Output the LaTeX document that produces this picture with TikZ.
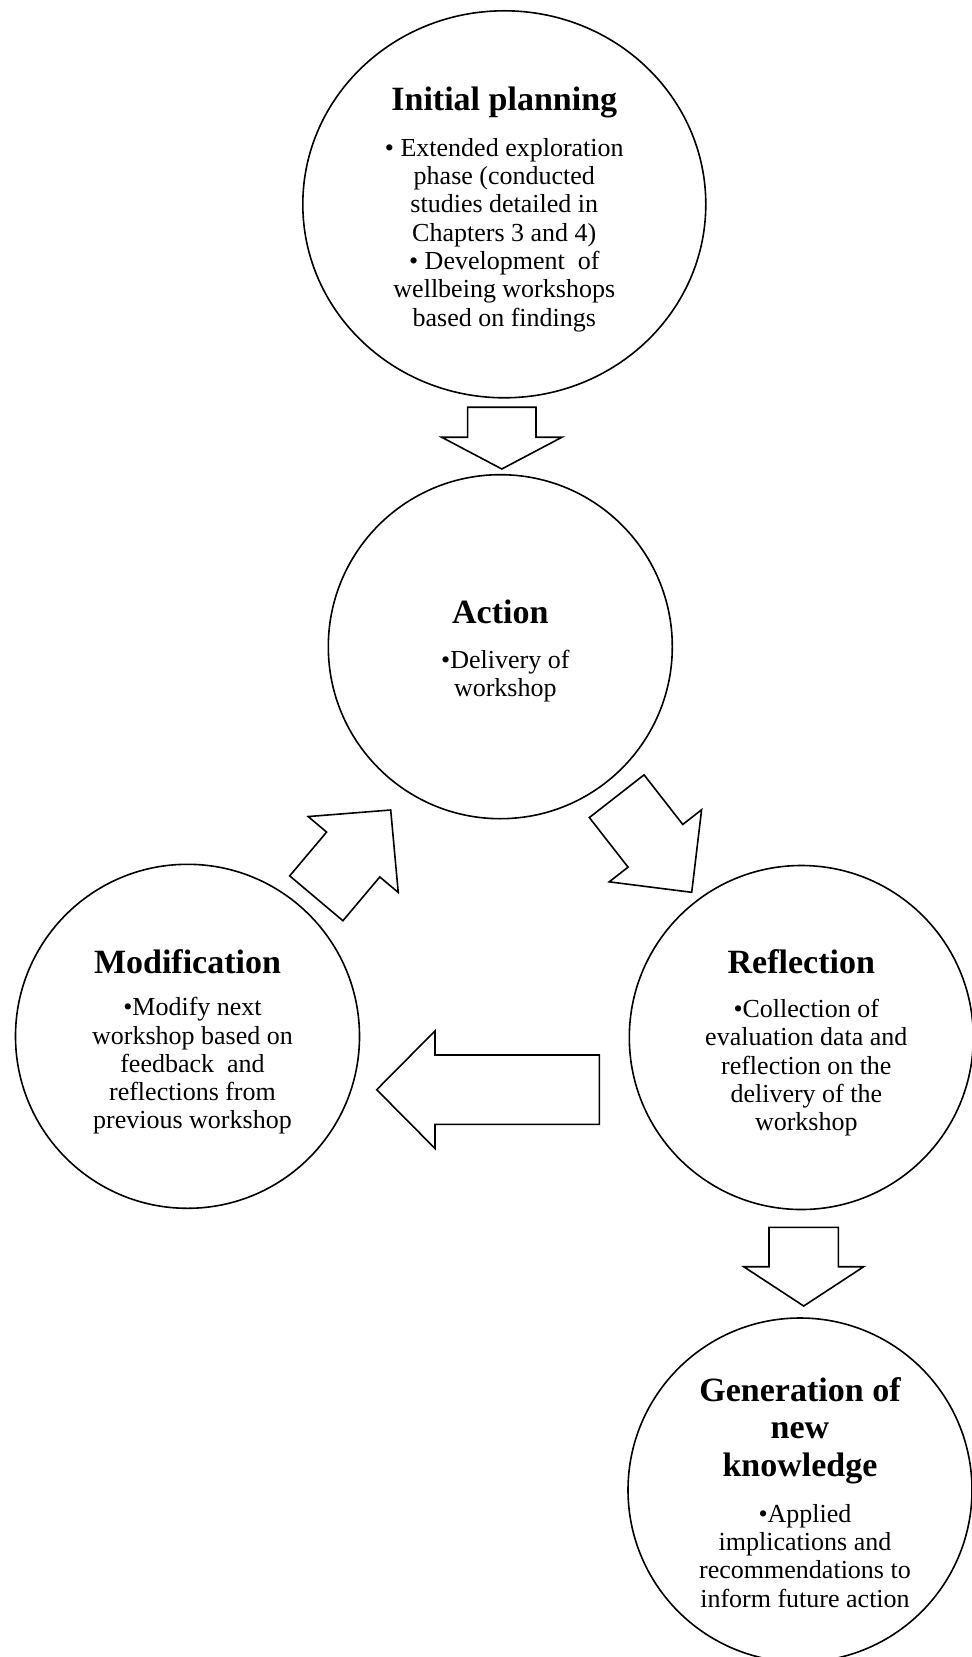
\documentclass[tikz,border=0pt]{standalone}
\usepackage{fontspec}
\setmainfont{Liberation Serif}
\usetikzlibrary{calc, shapes.geometric}

\tikzset{
  stage/.style = {draw, circle, line width=0.8pt, minimum size=172pt, inner sep=0pt},
  heading/.style = {anchor=north, align=center, inner sep=0pt, font=\fontsize{17}{18.75}\selectfont\bfseries},
  points/.style = {anchor=north, align=center, inner sep=0pt, font=\fontsize{13}{14.15}\selectfont},
  bigarrow/.style = {draw, line width=0.8pt, fill=white, line join=miter}
}

% tail, tip, half shaft, half head, head length
\newcommand{\blockarrow}[5]{%
  \coordinate (ba) at ($(#2)!#5!(#1)$);
  \draw[bigarrow] ($(#1)!#3!90:(#2)$) -- ($(ba)!#3!90:(#2)$) -- ($(ba)!#4!90:(#2)$) -- (#2)
    -- ($(ba)!#4!-90:(#2)$) -- ($(ba)!#3!-90:(#2)$) -- ($(#1)!#3!-90:(#2)$) -- cycle;
}

\begin{document}
\begin{tikzpicture}[x=0.5pt, y=-0.5pt]
\useasboundingbox (0,0) rectangle (971,1657);

\node[stage, ellipse, minimum width=201.5pt, minimum height=193.5pt] (plan) at (504.3,204.3) {};
\node[stage] (act) at (500.3,646.7) {};
\node[stage] (mod) at (187.5,1036.3) {};
\node[stage] (refl) at (801.3,1037.5) {};
\node[stage] (gen) at (800,1490) {};

\node[heading] (plan-t) at ($(plan)+(0,-117.3)$) {Initial planning};
\node[points] (plan-b) at ($(plan)+(0,-66.5)$) {• Extended exploration\\phase (conducted\\studies detailed in\\Chapters 3 and 4)\\• Development\ \ of\\wellbeing workshops\\based on findings};

\node[heading] (act-t) at ($(act)+(0,-47)$) {Action};
\node[points] (act-b) at ($(act)+(5,3)$) {•Delivery of\\workshop};

\node[heading] (mod-t) at ($(mod)+(0,-87.6)$) {Modification};
\node[points] (mod-b) at ($(mod)+(5,-39.3)$) {•Modify next\\workshop based on\\feedback\ \ and\\reflections from\\previous workshop};

\node[heading] (refl-t) at ($(refl)+(0,-88.8)$) {Reflection};
\node[points] (refl-b) at ($(refl)+(5,-38.8)$) {•Collection of\\evaluation data and\\reflection on the\\delivery of the\\workshop};

\node[heading] (gen-t) at ($(gen)+(0,-113)$) {Generation of\\new\\knowledge};
\node[points] (gen-b) at ($(gen)+(5,13.7)$) {•Applied\\implications and\\recommendations to\\inform future action};

\coordinate (plan-out) at (501.8,407.3);
\coordinate (act-in) at (501.8,469);
\coordinate (act-out) at (616.7,796.2);
\coordinate (refl-in) at (691.7,892.3);
\coordinate (refl-out) at (599.3,1089.7);
\coordinate (mod-in) at (376.7,1089.7);
\coordinate (mod-out) at (316.3,898.3);
\coordinate (act-back) at (390.7,810);
\coordinate (refl-down) at (803.7,1227.3);
\coordinate (gen-in) at (803.7,1306);

\blockarrow{plan-out}{act-in}{17.1pt}{30pt}{15.85pt}
\blockarrow{act-out}{refl-in}{17.35pt}{29.3pt}{29.5pt}
\blockarrow{refl-out}{mod-in}{17.35pt}{29.4pt}{29.15pt}
\blockarrow{mod-out}{act-back}{17.4pt}{29.45pt}{29.1pt}
\blockarrow{refl-down}{gen-in}{17.35pt}{30pt}{19.65pt}
\end{tikzpicture}
\end{document}
